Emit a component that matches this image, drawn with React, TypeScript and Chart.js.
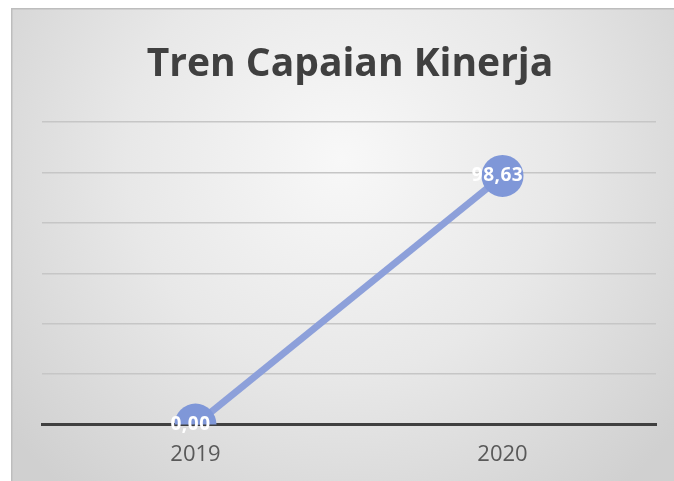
import React, { useEffect, useRef } from "react";
import { Chart, registerables } from "chart.js";

Chart.register(...registerables);

const categories = ["2019", "2020"];
const values = [0, 98.63];
const valueLabels = ["0,00", "98,63"];
const yTicks = [0, 20, 40, 60, 80, 100, 120];
const titleText = "Tren Capaian Kinerja";

const bgPlugin = {
  id: "bgPlugin",
  beforeDraw(chart: any) {
    const { ctx, width, height } = chart;
    ctx.save();
    const g = ctx.createRadialGradient(width * 0.5, height * 0.3, 0, width * 0.5, height * 0.3, width * 0.65);
    g.addColorStop(0, "#f8f8f8");
    g.addColorStop(0.5, "#e8e8e8");
    g.addColorStop(1, "#d0d0d0");
    ctx.fillStyle = g;
    ctx.fillRect(0, 0, width, height);
    ctx.strokeStyle = "#bdbdbd";
    ctx.lineWidth = 1.5;
    ctx.beginPath();
    ctx.moveTo(0, 0.75);
    ctx.lineTo(width, 0.75);
    ctx.moveTo(0.75, 0);
    ctx.lineTo(0.75, height);
    ctx.stroke();
    ctx.fillStyle = "#404040";
    ctx.font = "bold 39px 'Open Sans'";
    ctx.textAlign = "center";
    ctx.textBaseline = "middle";
    ctx.fillText(titleText, 339, 57);
    ctx.restore();
  },
};

const labelPlugin = {
  id: "labelPlugin",
  afterDatasetsDraw(chart: any) {
    const { ctx } = chart;
    const meta = chart.getDatasetMeta(0);
    ctx.save();
    ctx.fillStyle = "#ffffff";
    ctx.font = "bold 19px 'Open Sans'";
    (ctx as any).letterSpacing = "0.5px";
    ctx.textAlign = "center";
    ctx.textBaseline = "middle";
    meta.data.forEach((pt: any, i: number) => {
      ctx.fillText(valueLabels[i], pt.x - 5, pt.y);
    });
    ctx.restore();
  },
};

export default function App() {
  const ref = useRef<HTMLCanvasElement>(null);
  useEffect(() => {
    if (!ref.current) return;
    const chart = new Chart(ref.current, {
      type: "line",
      data: {
        labels: categories,
        datasets: [
          {
            data: values,
            borderColor: "#8da0da",
            borderWidth: 7,
            pointRadius: 21,
            pointHoverRadius: 21,
            pointBackgroundColor: "#7f97d8",
            pointBorderWidth: 0,
            tension: 0,
          },
        ],
      },
      options: {
        animation: false,
        responsive: false,
        maintainAspectRatio: false,
        layout: { autoPadding: false, padding: { top: 114, left: 31, right: 18, bottom: 34 } },
        plugins: { legend: { display: false }, tooltip: { enabled: false }, title: { display: false } },
        scales: {
          x: {
            offset: true,
            grid: { display: false },
            border: { display: true, color: "#404040", width: 3 },
            ticks: { color: "#595959", font: { size: 22, family: "'Open Sans'" }, padding: 9 },
          },
          y: {
            min: 0,
            max: 120,
            afterBuildTicks: (axis: any) => {
              axis.ticks = yTicks.map((v) => ({ value: v }));
            },
            ticks: { display: false },
            border: { display: false },
            grid: {
              color: (c: any) => (c.tick && c.tick.value === 0 ? "rgba(0,0,0,0)" : "#c6c6c6"),
              lineWidth: 1.5,
              drawTicks: false,
            },
          },
        },
      },
      plugins: [bgPlugin, labelPlugin],
    });
    return () => chart.destroy();
  }, []);
  return (
    <div style={{ position: "fixed", left: 11, top: 8, width: 663, height: 503 }}>
      <canvas ref={ref} width={663} height={503} style={{ width: 663, height: 503 }} />
    </div>
  );
}
